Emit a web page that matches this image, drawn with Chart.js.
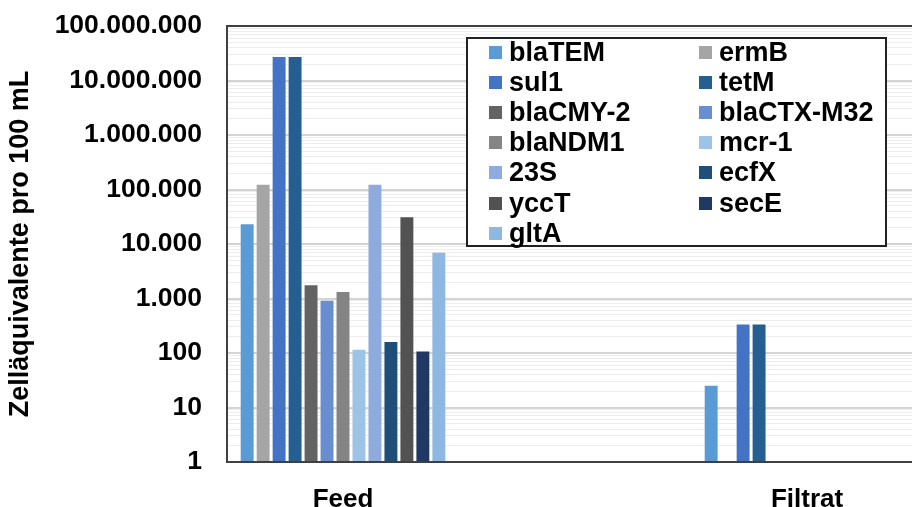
<!DOCTYPE html>
<html>
<head>
<meta charset="utf-8">
<script src="https://cdn.jsdelivr.net/npm/chart.js@4.4.1/dist/chart.umd.min.js"></script>
<style>
  body { margin: 0; overflow: hidden; background: #fff; }
  #wrap { position: relative; width: 930px; height: 507px; }
  #legend {
    position: absolute; left: 466px; top: 37px; width: 421px; height: 210px;
    border: 2px solid #222; background: #fff;
    display: grid; grid-template-columns: 210px 200px; grid-auto-rows: 30.2px;
    padding-left: 21px; box-sizing: border-box;
    font: bold 27px "Liberation Sans", Arial, sans-serif; color: #000;
  }
  #legend div { display: flex; align-items: center; white-space: nowrap; position: relative; top: -2px; }
  #legend span { display: inline-block; width: 13px; height: 13px; margin-right: 7px; }
</style>
</head>
<body>
<div id="wrap">
  <canvas id="myChart" width="930" height="507"></canvas>
  <div id="legend"></div>
</div>
<script>
// Kategorien (mittlere Kategorie leer wie im Original)
let categories = ["Feed", "", "Filtrat"];

let seriesNames = ["blaTEM", "ermB", "sul1", "tetM", "blaCMY-2", "blaCTX-M32",
  "blaNDM1", "mcr-1", "23S", "ecfX", "yccT", "secE", "gltA"];

let feedValues = [23000, 122000, 27000000, 27000000, 1750, 910,
  1320, 115, 122000, 160, 31000, 107, 6900];

let filtratValues = [25, null, 335, 335, null, null,
  null, null, null, null, null, null, null];

let seriesColors = ["#5B9BD5", "#A5A5A5", "#4472C4", "#255E91", "#636363", "#698ED0",
  "#848484", "#9DC3E6", "#8FAADC", "#1F4E79", "#525252", "#203864", "#8CB8E2"];

let yTickValues = [1, 10, 100, 1000, 10000, 100000, 1000000, 10000000, 100000000];

function formatDE(v) {
  return String(v).replace(/\B(?=(\d{3})+(?!\d))/g, ".");
}

let datasets = seriesNames.map((name, i) => ({
  label: name,
  backgroundColor: seriesColors[i],
  data: [feedValues[i], null, filtratValues[i]],
  categoryPercentage: 0.895,
  barPercentage: 0.81
}));

// Rahmen um die Zeichenfläche
let plotBorder = {
  id: "plotBorder",
  afterDraw(chart) {
    let a = chart.chartArea;
    let ctx = chart.ctx;
    ctx.save();
    ctx.strokeStyle = "#404040";
    ctx.lineWidth = 2;
    ctx.strokeRect(a.left, a.top, a.right - a.left, a.bottom - a.top);
    ctx.restore();
  }
};

let barsChart = new Chart("myChart", {
  type: "bar",
  data: { labels: categories, datasets: datasets },
  options: {
    responsive: false,
    animation: false,
    layout: { padding: { top: 26, right: 7, left: 0, bottom: 0 } },
    plugins: {
      legend: { display: false },
      tooltip: { enabled: false }
    },
    scales: {
      x: {
        grid: { display: false },
        border: { display: false },
        ticks: {
          color: "#000",
          padding: 14,
          font: { family: "Liberation Sans", size: 26, weight: "bold" }
        },
        afterFit: s => { s.height = 45; s.paddingLeft = 0; s.paddingRight = 0; }
      },
      y: {
        type: "logarithmic",
        min: 1,
        max: 100000000,
        border: { display: false },
        grid: {
          drawTicks: false,
          color: c => (c.tick && yTickValues.includes(c.tick.value)) ? "#d4d4d4" : "#ededed",
          lineWidth: c => (c.tick && yTickValues.includes(c.tick.value)) ? 2 : 1
        },
        afterBuildTicks: s => {
          let t = [];
          yTickValues.forEach((v, i) => {
            t.push({ value: v });
            if (i < yTickValues.length - 1) {
              for (let k = 2; k <= 9; k++) t.push({ value: v * k });
            }
          });
          s.ticks = t;
        },
        ticks: {
          autoSkip: false,
          color: "#000",
          padding: 25,
          font: { family: "Liberation Sans", size: 26.5, weight: "bold" },
          callback: v => yTickValues.includes(v) ? formatDE(v) : ""
        },
        title: {
          display: true,
          text: "Zelläquivalente pro 100 mL",
          color: "#000",
          font: { family: "Liberation Sans", size: 27, weight: "bold" },
          padding: { top: 4, bottom: 0 }
        },
        afterFit: s => { s.width = 227; s.paddingTop = 0; s.paddingBottom = 0; }
      }
    }
  },
  plugins: [plotBorder]
});

// Legende
let legendBox = document.getElementById("legend");
seriesNames.forEach((name, i) => {
  let item = document.createElement("div");
  let sw = document.createElement("span");
  sw.style.background = seriesColors[i];
  item.appendChild(sw);
  item.appendChild(document.createTextNode(name));
  legendBox.appendChild(item);
});
</script>
</body>
</html>
